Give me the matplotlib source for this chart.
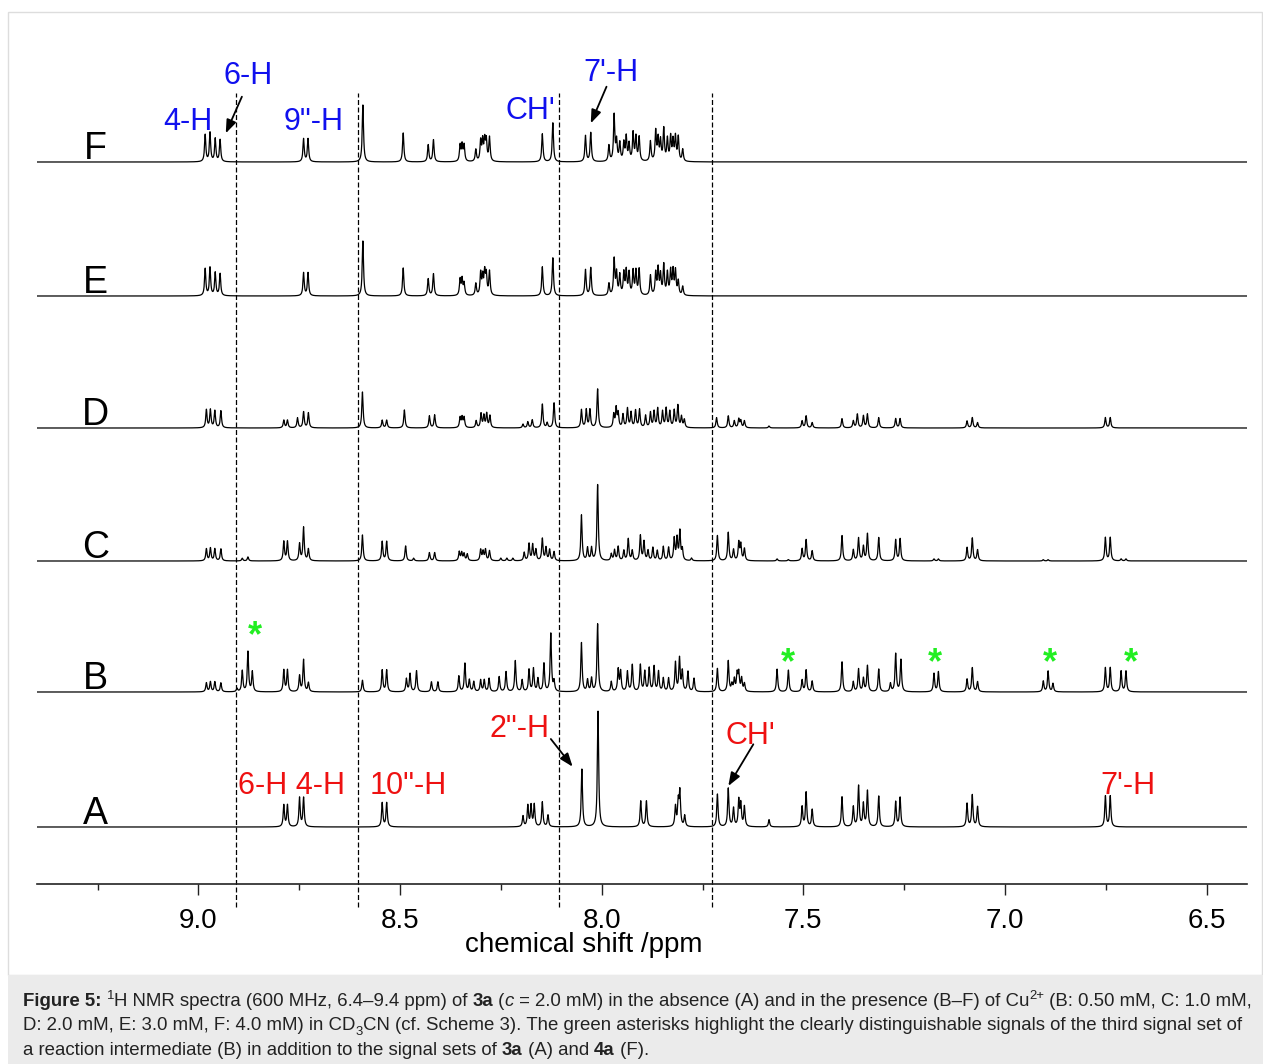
import numpy as np
import matplotlib
matplotlib.use("Agg")
import matplotlib.pyplot as plt
from matplotlib.patches import Rectangle

plt.rcParams['font.family'] = ['Liberation Sans', 'DejaVu Sans']

# ---------------- data (ppm positions and peak intensities) ----------------
F_ppm = [8.983, 8.971, 8.958, 8.946, 8.739, 8.728, 8.592, 8.492, 8.430, 8.417,
         8.351, 8.346, 8.341, 8.312, 8.300, 8.295, 8.290, 8.286, 8.278, 8.147,
         8.121, 8.040, 8.027, 7.982, 7.969, 7.963, 7.955, 7.945, 7.939, 7.932,
         7.922, 7.915, 7.907, 7.879, 7.866, 7.860, 7.854, 7.846, 7.837, 7.829,
         7.823, 7.817, 7.810, 7.799]
F_int = [27, 29, 23, 22, 23, 23, 57, 29, 17, 22,
         16, 16, 16, 12, 20, 20, 20, 20, 24, 28,
         39, 26, 29, 16, 46, 20, 18, 18, 24, 17,
         28, 24, 24, 20, 30, 22, 20, 32, 22, 24,
         20, 24, 24, 12]

E_ppm = F_ppm
E_int = [27, 28, 23, 22, 23, 23, 55, 28, 17, 22,
         16, 16, 12, 12, 22, 18, 22, 20, 24, 29,
         38, 26, 28, 12, 36, 22, 20, 22, 24, 22,
         24, 24, 26, 20, 22, 26, 20, 30, 22, 24,
         24, 24, 14, 9]

D_ppm = [8.980, 8.970, 8.959, 8.944, 8.788, 8.779, 8.754, 8.739, 8.727,
         8.593, 8.544, 8.533, 8.489, 8.427, 8.414,
         8.351, 8.346, 8.341, 8.311, 8.299, 8.292, 8.285, 8.277,
         8.195, 8.183, 8.172, 8.147, 8.135, 8.118,
         8.050, 8.038, 8.029, 8.010,
         7.970, 7.964, 7.959, 7.947, 7.936, 7.927, 7.916, 7.906, 7.891, 7.879,
         7.870, 7.861, 7.849, 7.840, 7.831, 7.820, 7.811, 7.802, 7.795,
         7.715, 7.686, 7.671, 7.660, 7.655, 7.646, 7.585, 7.503, 7.493, 7.478,
         7.404, 7.376, 7.366, 7.351, 7.341, 7.313, 7.271, 7.260, 7.094, 7.081,
         7.068, 6.751, 6.739]
D_int = [18, 18, 17, 17, 7.7, 7.7, 10, 16, 15,
         36, 7.7, 7.7, 18, 12, 13,
         10, 10, 10, 7, 14, 12, 14, 12,
         3.7, 6, 8, 23.7, 5, 25,
         18, 18, 18, 38.7,
         13, 19, 14, 13, 19, 15, 17, 18, 12, 15,
         16, 19, 16, 19, 16, 17, 22, 11, 8,
         10.3, 12, 7, 8.7, 7, 7, 2, 7, 12, 5.3,
         9.3, 7, 13.7, 12, 13.7, 10.3, 9.3, 9.3, 7, 10.3,
         5.3, 10.3, 10.3]

C_ppm = [8.980, 8.970, 8.959, 8.944, 8.891, 8.877,
         8.788, 8.779, 8.749, 8.739, 8.727,
         8.593, 8.544, 8.533, 8.486, 8.466, 8.427, 8.414,
         8.353, 8.347, 8.341, 8.333, 8.300, 8.294, 8.288, 8.278,
         8.250, 8.235, 8.220,
         8.192, 8.180, 8.171, 8.163, 8.147, 8.138, 8.129, 8.118,
         8.050, 8.035, 8.025, 8.010,
         7.976, 7.968, 7.959, 7.945, 7.934, 7.924, 7.904, 7.895, 7.885, 7.873,
         7.862, 7.847, 7.834, 7.820, 7.813, 7.806, 7.800, 7.777,
         7.713, 7.686, 7.673, 7.660, 7.655, 7.646, 7.565, 7.537, 7.503, 7.493,
         7.478, 7.404, 7.376, 7.363, 7.351, 7.341, 7.313, 7.271, 7.260, 7.176,
         7.165, 7.094, 7.081, 7.068, 6.905, 6.893, 6.751, 6.739, 6.712, 6.700]
C_int = [12, 12.7, 12, 12, 2.7, 4,
         19.3, 19.3, 17, 33.3, 11.7,
         26, 19.3, 19.3, 15, 2.7, 8.3, 8.3,
         9, 8, 7, 6.7, 11, 9, 11, 10,
         2.7, 2.7, 2.7,
         8.3, 17, 16, 11, 22, 13, 11, 9,
         45.7, 12.7, 12.7, 76,
         6.7, 10.5, 14, 10, 21.7, 10, 25, 19, 10, 13,
         10, 14, 13, 22, 22, 29, 11, 2.7,
         25.3, 28.3, 11, 18, 16, 12, 2, 1.3, 12, 21,
         10, 25.3, 11, 22.7, 14.3, 27, 23.3, 21, 22, 2,
         2, 13.3, 22.7, 11, 1.3, 1.3, 23.3, 23.3, 2, 2]

B_ppm = [8.980, 8.970, 8.959, 8.944, 8.904, 8.891, 8.877, 8.866,
         8.788, 8.779, 8.749, 8.739, 8.727,
         8.593, 8.544, 8.533, 8.484, 8.475, 8.459, 8.422, 8.406,
         8.354, 8.339, 8.328, 8.317, 8.300, 8.291, 8.279,
         8.254, 8.237, 8.214, 8.197, 8.180, 8.169, 8.158, 8.143, 8.126, 8.118,
         8.050, 8.035, 8.025, 8.010,
         7.976, 7.959, 7.953, 7.936, 7.924, 7.904, 7.893, 7.882, 7.870, 7.859,
         7.847, 7.834, 7.817, 7.807, 7.800, 7.786, 7.771,
         7.713, 7.686, 7.677, 7.671, 7.664, 7.660, 7.653, 7.646,
         7.565, 7.537, 7.503, 7.493, 7.478, 7.404, 7.376, 7.363, 7.351, 7.341,
         7.313, 7.284, 7.271, 7.258, 7.176, 7.165, 7.094, 7.081, 7.068, 6.905,
         6.893, 6.881, 6.751, 6.739, 6.712, 6.700]
B_int = [9, 10, 10, 9, 3.3, 21, 40, 20,
         21.7, 21.7, 16, 32, 9,
         11.7, 21.7, 21.7, 13, 18, 21, 10, 10,
         15.7, 28.3, 11.7, 10, 11.7, 11.7, 13.3,
         15, 20, 31, 11.7, 22, 23, 13, 28, 58, 10,
         49, 11.7, 13.3, 67.7,
         10, 22, 20, 20, 26.7, 26.7, 20, 23.3, 25, 20,
         13.3, 13.3, 29, 33, 20, 20, 13.3,
         23.3, 30.7, 7, 12, 17, 18, 13, 8,
         22.7, 21.7, 11.7, 21.7, 10.7, 30, 10, 22.7, 13.3, 26,
         22.7, 8.3, 38, 32, 18.3, 20, 12.7, 24, 10, 10.7,
         20.7, 8.3, 24, 24, 20.7, 20.7]

A_ppm = [8.788, 8.779, 8.749, 8.739, 8.544, 8.533, 8.195, 8.183, 8.175, 8.167,
         8.147, 8.133, 8.049, 8.009, 7.903, 7.889, 7.817, 7.810, 7.806, 7.794,
         7.713, 7.686, 7.673, 7.660, 7.655, 7.646, 7.585, 7.503, 7.493, 7.478,
         7.404, 7.376, 7.363, 7.351, 7.341, 7.313, 7.271, 7.260, 7.094, 7.081,
         7.068, 6.751, 6.739]
A_int = [21.7, 21.7, 29, 29, 24, 24, 10.7, 21, 21, 22,
         24.7, 11.7, 57.7, 115.7, 25.7, 25.7, 20, 24, 34, 11,
         32.7, 38.3, 18.3, 26, 22, 20, 7.3, 20, 34.3, 17.3,
         30, 20, 40.7, 22.7, 35.7, 30.7, 25, 29.3, 23.3, 31.7,
         20, 30.7, 30.7]

spectra_labels = ["A", "B", "C", "D", "E", "F"]
spectra_ppm = [A_ppm, B_ppm, C_ppm, D_ppm, E_ppm, F_ppm]
spectra_int = [A_int, B_int, C_int, D_int, E_int, F_int]
guide_ppm = [8.906, 8.604, 8.106, 7.727]
tick_ppm = [9.0, 8.5, 8.0, 7.5, 7.0, 6.5]
minor_ppm = [9.25, 8.75, 8.25, 7.75, 7.25, 6.75]
star_ppm = [8.859, 7.537, 7.173, 6.889, 6.688]

# ---------------- layout ----------------
W, H = 1263, 1064
fig = plt.figure(figsize=(W / 100, H / 100), dpi=100)
offsets = [57, 192, 323, 456, 588, 722]

ax = fig.add_axes([37 / W, (H - 914) / H, 1210 / W, 880 / H])
ax.set_xlim(9.4, 6.4)
ax.set_ylim(-30, 850)

grid = np.linspace(6.4, 9.4, 15001)
hw = 0.0019


def lorentz_sum(pos, amp):
    y = np.zeros_like(grid)
    for p, a in zip(pos, amp):
        y += a * hw ** 2 / ((grid - p) ** 2 + hw ** 2)
    return y


for lab, pos, amp, off in zip(spectra_labels, spectra_ppm, spectra_int, offsets):
    ax.plot(grid, off + lorentz_sum(pos, amp), color='black', lw=0.9)
    ax.text(9.255, off + 3, lab, fontsize=27, ha='center', va='baseline', color='black')

for g in guide_ppm:
    ax.plot([g, g], [-23, 791], color='black', lw=0.9, linestyle=(0, (4, 2)))

# spines / ticks
for s in ['left', 'right', 'top']:
    ax.spines[s].set_visible(False)
ax.spines['bottom'].set_position(('data', 0))
ax.spines['bottom'].set_linewidth(1.2)
ax.spines['bottom'].set_color('#222222')
ax.set_yticks([])
ax.set_xticks(tick_ppm)
ax.set_xticklabels([f"{t:.1f}" for t in tick_ppm])
ax.set_xticks(minor_ppm, minor=True)
ax.tick_params(axis='x', which='major', direction='out', length=8, width=1.0,
               labelsize=20, pad=9, color='#222222')
ax.tick_params(axis='x', which='minor', direction='out', length=4, width=1.0, color='#222222')
ax.patch.set_visible(False)
fig.text(584 / W, 1 - 945 / H, "chemical shift /ppm", fontsize=20, ha='center', va='center')

# annotations
blue = '#1010ee'
red = '#ee1111'
txt = [("6-H", 8.876, 800, blue), ("4-H", 9.025, 754, blue), ('9"-H', 8.715, 754, blue),
       ("CH'", 8.176, 765, blue), ("7'-H", 7.978, 803, blue),
       ("6-H 4-H", 8.770, 90, red), ('10"-H', 8.480, 90, red), ('2"-H', 8.203, 147, red),
       ("CH'", 7.631, 140, red), ("7'-H", 6.696, 90, red)]
for s, x, y, c in txt:
    ax.text(x, y, s, fontsize=22, color=c, ha='center', va='baseline')

arrows = [((8.892, 787.3), (8.932, 750.7)), ((7.988, 797.3), (8.027, 760.7)),
          ((8.126, 145), (8.072, 117.3)), ((7.624, 139.7), (7.686, 98))]
for (x0, y0), (x1, y1) in arrows:
    ax.annotate("", xy=(x1, y1), xytext=(x0, y0),
                arrowprops=dict(arrowstyle='-|>,head_length=0.8,head_width=0.3',
                                color='black', lw=1.3, shrinkA=0, shrinkB=0))

star_y = [238, 211, 211, 211, 211]
for x, y in zip(star_ppm, star_y):
    ax.text(x, y, "*", fontsize=26, color='#22ee22', ha='center', va='baseline',
            fontweight='bold')

# frame and caption box
fig.patches.append(Rectangle((8 / W, 1 - 975 / H), 1254 / W, 963 / H, transform=fig.transFigure,
                             fill=False, edgecolor='#dddddd', lw=1.0))
fig.patches.append(Rectangle((8 / W, 0), 1255 / W, 89 / H, transform=fig.transFigure,
                             facecolor='#ebebeb', edgecolor='none'))

# caption with mixed styles
lines = [
    [("Figure 5:", 'b'), (" ", 'n'), ("1", 'sup'),
     ("H NMR spectra (600 MHz, 6.4\u20139.4 ppm) of ", 'n'), ("3a", 'b'), (" (", 'n'), ("c", 'i'),
     (" = 2.0 mM) in the absence (A) and in the presence (B\u2013F) of Cu", 'n'), ("2+", 'sup'),
     (" (B: 0.50 mM, C: 1.0 mM,", 'n')],
    [("D: 2.0 mM, E: 3.0 mM, F: 4.0 mM) in CD", 'n'), ("3", 'sub'),
     ("CN (cf. Scheme 3). The green asterisks highlight the clearly distinguishable signals of the third signal set of", 'n')],
    [("a reaction intermediate (B) in addition to the signal sets of ", 'n'), ("3a", 'b'),
     (" (A) and ", 'n'), ("4a", 'b'), (" (F).", 'n')],
]
renderer = fig.canvas.get_renderer()


def run_width(s, kind, fs):
    kw = dict(fontsize=fs * (0.7 if kind in ('sup', 'sub') else 1.0))
    if kind == 'b':
        kw['fontweight'] = 'bold'
    if kind == 'i':
        kw['fontstyle'] = 'italic'
    t = fig.text(0, 0, s.replace(" ", "\u00a0"), **kw)
    w = t.get_window_extent(renderer).width
    t.remove()
    return w, kw


def layout(fs, draw):
    widths = []
    for li, line in enumerate(lines):
        x = 23
        yb = 1006 + li * 24.5
        for s, kind in line:
            w, kw = run_width(s, kind, fs)
            if draw:
                dy = 0
                if kind == 'sup':
                    dy = -fs * 0.55
                if kind == 'sub':
                    dy = fs * 0.3
                fig.text(x / W, 1 - (yb + dy) / H, s.replace(" ", "\u00a0"), va='baseline',
                         ha='left', color='#222222', **kw)
            x += w
        widths.append(x - 23)
    return widths


fs0 = 12.0
w0 = layout(fs0, False)[0]
fs = fs0 * 1235 / w0
layout(fs, True)

fig.savefig("out.png", dpi=100)
